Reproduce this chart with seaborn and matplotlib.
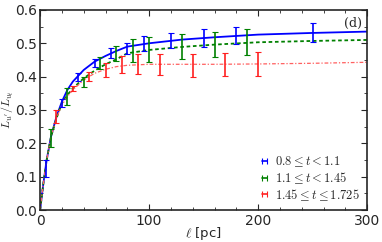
import numpy as np
import pandas as pd
import seaborn as sns
import matplotlib
matplotlib.use("Agg")
from matplotlib import pyplot as plt
from matplotlib.lines import Line2D
from matplotlib.ticker import MultipleLocator

# measured points (ell in pc) with errors, three age bins
blue_x = [5, 20, 35, 50, 65, 80, 95, 120, 150, 180, 250]
blue_y = [0.125, 0.32, 0.40, 0.44, 0.47, 0.485, 0.50, 0.509, 0.516, 0.524, 0.532]
blue_err = [0.025, 0.012, 0.012, 0.012, 0.015, 0.016, 0.022, 0.023, 0.026, 0.026, 0.028]

green_x = [10, 25, 40, 55, 70, 85, 100, 130, 160, 190]
green_y = [0.216, 0.34, 0.385, 0.44, 0.47, 0.478, 0.481, 0.49, 0.497, 0.504]
green_err = [0.026, 0.026, 0.015, 0.018, 0.022, 0.035, 0.037, 0.037, 0.038, 0.039]

red_x = [15, 30, 45, 60, 75, 90, 110, 140, 170, 200]
red_y = [0.28, 0.365, 0.40, 0.42, 0.436, 0.438, 0.437, 0.434, 0.437, 0.439]
red_err = [0.02, 0.008, 0.014, 0.021, 0.026, 0.03, 0.032, 0.034, 0.035, 0.036]

# fitted curves
fit_x = [0, 3, 6, 10, 15, 20, 25, 30, 40, 50, 60, 70, 80, 100, 130, 160, 200, 250, 300]
fit_blue = [0, 0.08, 0.15, 0.22, 0.28, 0.325, 0.36, 0.385, 0.42, 0.445, 0.462, 0.477, 0.49,
            0.50, 0.511, 0.518, 0.526, 0.531, 0.535]
fit_green = [0, 0.08, 0.15, 0.22, 0.275, 0.32, 0.345, 0.365, 0.395, 0.418, 0.437, 0.452, 0.47,
             0.48, 0.489, 0.496, 0.503, 0.507, 0.51]
fit_red = [0, 0.08, 0.15, 0.22, 0.275, 0.315, 0.34, 0.36, 0.39, 0.41, 0.422, 0.43, 0.434,
           0.437, 0.437, 0.437, 0.438, 0.44, 0.443]

labels = [r"$0.8 \leq t < 1.1$", r"$1.1 \leq t < 1.45$", r"$1.45 \leq t \leq 1.725$"]
colors = ["#0000ff", "#008000", "#ff2020"]

sns.set_style("ticks")
plt.rcParams["mathtext.fontset"] = "cm"
plt.rcParams["font.family"] = ["DejaVu Sans"]

fig = plt.figure(figsize=(3.82, 2.42), dpi=100)
ax = fig.add_axes([0.105, 0.132, 0.856, 0.827])

fits = pd.DataFrame({"x": fit_x, "blue": fit_blue, "green": fit_green, "red": fit_red})
sns.lineplot(data=fits, x="x", y="blue", ax=ax, color="#0000ff", lw=1.3)
sns.lineplot(data=fits, x="x", y="green", ax=ax, color="#008000", lw=1.3, linestyle=(0, (2, 1.5)))
sns.lineplot(data=fits, x="x", y="red", ax=ax, color="#ff6060", lw=0.9,
             linestyle=(0, (3, 1.5, 1, 1.5)))

for xs, ys, es, c in [(blue_x, blue_y, blue_err, colors[0]),
                      (green_x, green_y, green_err, colors[1]),
                      (red_x, red_y, red_err, colors[2])]:
    ax.errorbar(xs, ys, yerr=es, fmt="none", ecolor=c, elinewidth=1.2, capsize=2, capthick=0.8)

ax.set_xlim(0, 300)
ax.set_ylim(0, 0.6)
ax.xaxis.set_major_locator(MultipleLocator(100))
ax.xaxis.set_minor_locator(MultipleLocator(20))
ax.yaxis.set_major_locator(MultipleLocator(0.1))
ax.yaxis.set_minor_locator(MultipleLocator(0.05))
ax.tick_params(which="both", direction="in", top=True, right=True, labelsize=10)
ax.tick_params(axis="y", pad=2)
ax.tick_params(axis="x", pad=2.5)
ax.tick_params(which="major", length=4, width=0.8)
ax.tick_params(which="minor", length=2, width=0.6)
for s in ax.spines.values():
    s.set_linewidth(1.2)

ax.set_xlabel(r"$\ell$ [pc]", fontsize=9.5)
ax.xaxis.set_label_coords(0.5, -0.075)
ax.set_ylabel(r"$L_{u'}/L_{u_t}$", fontsize=8.5)
ax.yaxis.set_label_coords(-0.074, 0.5)
ax.text(0.985, 0.965, "(d)", transform=ax.transAxes, ha="right", va="top",
        family="DejaVu Serif", fontsize=9)

# legend handles drawn as small horizontal error bars
handles = [Line2D([], [], color=c, lw=1.2, marker="|", markersize=5, markeredgewidth=0.8)
           for c in colors]
ax.legend(handles, labels, loc="lower right", fontsize=9, frameon=False, numpoints=2,
          handlelength=1.0, handletextpad=0.3, labelspacing=0.1, borderaxespad=0.2)

fig.savefig("out.png", dpi=100)
